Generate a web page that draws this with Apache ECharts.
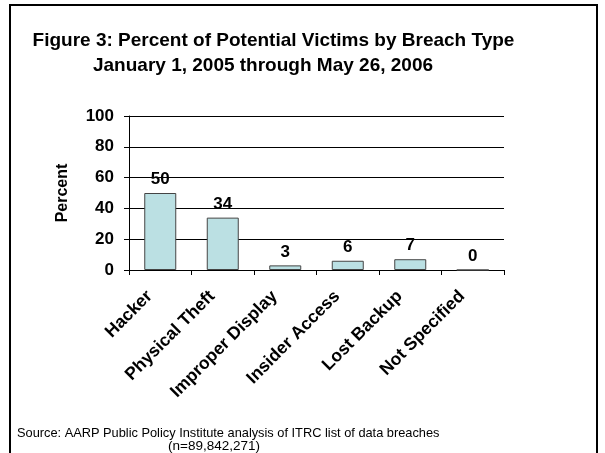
<!DOCTYPE html>
<html>
<head>
<meta charset="utf-8">
<script src="https://cdn.jsdelivr.net/npm/echarts@6/dist/echarts.min.js"></script>
<style>
html,body{margin:0;padding:0;background:#fff;}
#chart{width:605px;height:453px;}
</style>
</head>
<body>
<div id="chart"></div>
<script>
var titleLines = ['Figure 3: Percent of Potential Victims by Breach Type', 'January 1, 2005 through May 26, 2006'];
var categories = ['Hacker', 'Physical Theft', 'Improper Display', 'Insider Access', 'Lost Backup', 'Not Specified'];
var percentValues = [50, 34, 3, 6, 7, 0];
var yTicks = [0, 20, 40, 60, 80, 100];
var yAxisName = 'Percent';
var sourceLines = ['Source: AARP Public Policy Institute analysis of ITRC list of data breaches', '(n=89,842,271)'];

var FONT = '"Liberation Sans", Arial, sans-serif';
var chart = echarts.init(document.getElementById('chart'), null, {renderer: 'canvas'});
chart.setOption({
  animation: false,
  backgroundColor: '#ffffff',
  textStyle: {fontFamily: FONT, color: '#000'},
  graphic: [
    {type: 'rect', shape: {x: 10, y: 5, width: 587, height: 470}, style: {fill: 'none', stroke: '#000', lineWidth: 2}, silent: true},
    {type: 'text', x: 273.5, y: 41, style: {text: titleLines[0], font: 'bold 19px ' + FONT, fill: '#000', textAlign: 'center', textVerticalAlign: 'middle'}},
    {type: 'text', x: 263, y: 66, style: {text: titleLines[1], font: 'bold 19px ' + FONT, fill: '#000', textAlign: 'center', textVerticalAlign: 'middle'}},
    {type: 'text', x: 17, y: 433, style: {text: sourceLines[0], font: '12.8px ' + FONT, fill: '#000', textAlign: 'left', textVerticalAlign: 'middle'}},
    {type: 'text', x: 168, y: 446, style: {text: sourceLines[1], font: '13.5px ' + FONT, fill: '#000', textAlign: 'left', textVerticalAlign: 'middle'}}
  ],
  grid: {left: 129, right: 101, top: 116, bottom: 183, containLabel: false},
  xAxis: {
    type: 'category',
    data: categories,
    axisLine: {lineStyle: {color: '#000', width: 1}},
    axisTick: {show: true, length: 5, lineStyle: {color: '#000'}},
    axisLabel: {interval: 0, rotate: 45, margin: 13, padding: [0, 15, 0, 0], fontFamily: FONT, fontWeight: 'bold', fontSize: 17.5, color: '#000'}
  },
  yAxis: {
    type: 'value',
    min: yTicks[0], max: yTicks[yTicks.length - 1], interval: yTicks[1] - yTicks[0],
    name: yAxisName,
    nameLocation: 'middle',
    nameGap: 58,
    nameTextStyle: {fontFamily: FONT, fontWeight: 'bold', fontSize: 16, color: '#000'},
    axisLine: {show: true, lineStyle: {color: '#000', width: 1}},
    axisTick: {show: true, length: 5, lineStyle: {color: '#000'}},
    splitLine: {show: true, lineStyle: {color: '#000', width: 1}},
    axisLabel: {margin: 15, fontFamily: FONT, fontWeight: 'bold', fontSize: 17, color: '#000'}
  },
  series: [{
    type: 'bar',
    data: percentValues,
    barWidth: 32,
    itemStyle: {color: '#bbe0e3', borderColor: '#444', borderWidth: 1},
    label: {show: true, position: 'top', distance: 5, fontFamily: FONT, fontWeight: 'bold', fontSize: 17, color: '#000'}
  }]
});
</script>
</body>
</html>
